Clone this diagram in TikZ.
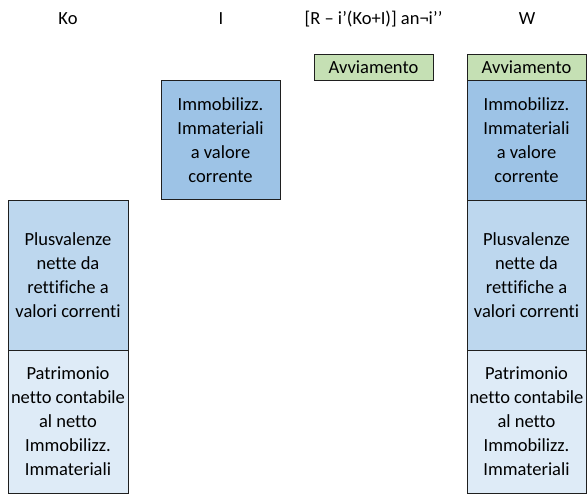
\documentclass[tikz,border=0pt]{standalone}
\usepackage{fontspec}
\setmainfont[Ligatures=NoCommon]{Carlito}
\definecolor{immob}{HTML}{9DC3E6}
\definecolor{plusv}{HTML}{BDD7EE}
\definecolor{patr}{HTML}{DEEBF7}
\definecolor{avv}{HTML}{C5E0B4}
\definecolor{edge}{HTML}{1F1F1F}
\begin{document}
\begin{tikzpicture}[x=1pt,y=-1pt,
  blk/.style={draw=edge, line width=0.9pt, inner sep=0pt, align=center,
    font=\fontsize{18.5}{24}\selectfont},
  hdr/.style={font=\fontsize{18.5}{22}\selectfont, inner sep=0pt}]
\useasboundingbox[fill=white] (0,0) rectangle (587,495);
% headers
\node[hdr] (hKo) at (68,19) {Ko};
\node[hdr] (hI) at (221,19) {I};
\node[hdr] (hR) at (373.5,19) {[R – i’(Ko+I)] an¬i’’};
\node[hdr] (hW) at (527,19) {W};
% Ko column
\path[blk, fill=plusv] (8,200) rectangle (128,350);
\node[blk, draw=none] (koP) at (68,275) {Plusvalenze\\nette da\\rettifiche a\\valori correnti};
\path[blk, fill=patr] (8,350) rectangle (128,493);
\node[blk, draw=none] (koN) at (68,421.5) {Patrimonio\\netto contabile\\al netto\\Immobilizz.\\Immateriali};
% I column
\path[blk, fill=immob] (161,80) rectangle (280,199);
\node[blk, draw=none] (iI) at (220.5,140) {Immobilizz.\\Immateriali\\a valore\\corrente};
% middle Avviamento
\path[blk, fill=avv] (314,54) rectangle (433,80);
\node[blk, draw=none] (mA) at (373.5,67) {Avviamento};
% W column
\path[blk, fill=avv] (467,54) rectangle (586,80);
\node[blk, draw=none] (wA) at (526.5,67) {Avviamento};
\path[blk, fill=immob] (467,80) rectangle (586,200);
\node[blk, draw=none] (wI) at (526.5,140) {Immobilizz.\\Immateriali\\a valore\\corrente};
\path[blk, fill=plusv] (467,200) rectangle (586,350);
\node[blk, draw=none] (wP) at (526.5,275) {Plusvalenze\\nette da\\rettifiche a\\valori correnti};
\path[blk, fill=patr] (467,350) rectangle (586,493);
\node[blk, draw=none] (wN) at (526.5,421.5) {Patrimonio\\netto contabile\\al netto\\Immobilizz.\\Immateriali};
\end{tikzpicture}
\end{document}
